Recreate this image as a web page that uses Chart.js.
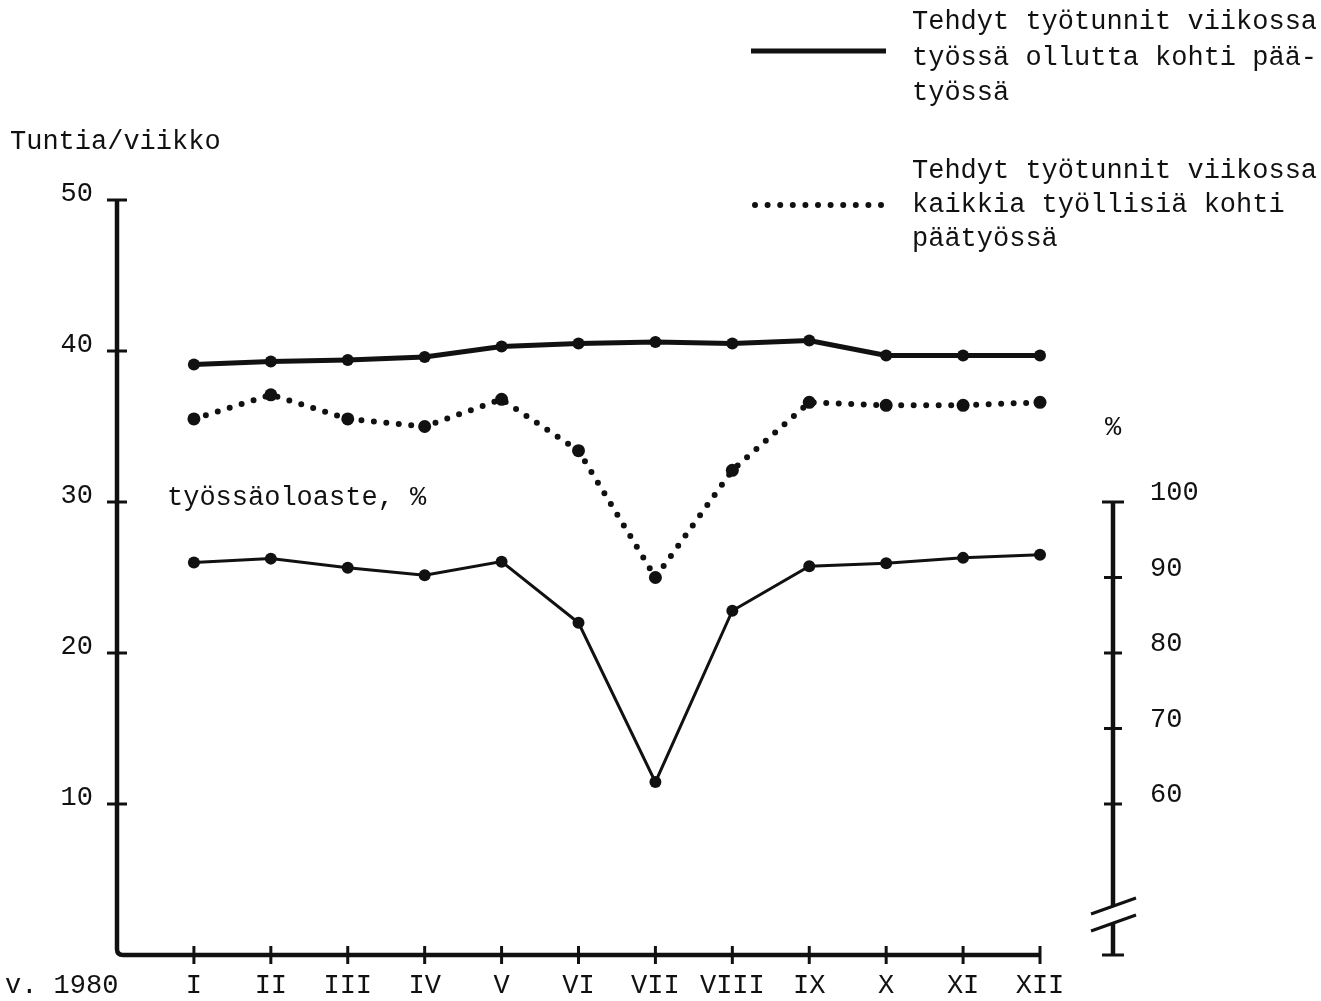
<!DOCTYPE html>
<html>
<head>
<meta charset="utf-8">
<script src="https://cdn.jsdelivr.net/npm/chart.js@4.4.1/dist/chart.umd.min.js"></script>
<style>
  html, body { margin: 0; padding: 0; background: #fff; }
  #wrap { width: 1321px; height: 1001px; position: relative; }
  canvas { display: block; }
</style>
</head>
<body>
<div id="wrap"><canvas id="c" width="1321" height="1001"></canvas></div>
<script>
// ---- data ----
const months = ['I','II','III','IV','V','VI','VII','VIII','IX','X','XI','XII'];
const hoursPerAtWork = [39.1, 39.3, 39.4, 39.6, 40.3, 40.5, 40.6, 40.5, 40.7, 39.7, 39.7, 39.7];
const hoursPerEmployed = [35.5, 37.1, 35.5, 35.0, 36.8, 33.4, 25.0, 32.1, 36.6, 36.4, 36.4, 36.6];
const presenceRate = [92.0, 92.5, 91.3, 90.3, 92.1, 84.0, 62.9, 85.6, 91.5, 91.9, 92.6, 93.0];
const leftTicks = [10, 20, 30, 40, 50];
const rightTicks = [60, 70, 80, 90, 100];
const legendSolid = ['Tehdyt työtunnit viikossa', 'työssä ollutta kohti pää-', 'työssä'];
const legendDotted = ['Tehdyt työtunnit viikossa', 'kaikkia työllisiä kohti', 'päätyössä'];
const leftTitle = 'Tuntia/viikko';
const rightTitle = '%';
const rateLabel = 'työssäoloaste, %';
const yearLabel = 'v. 1980';

const FONT = '27px "Liberation Mono", "DejaVu Sans Mono", monospace';
const INK = '#111';

const toPts = arr => arr.map((v, i) => ({x: i + 1, y: v}));

const axesPlugin = {
  id: 'manualAxes',
  afterDraw(chart) {
    const ctx = chart.ctx;
    const xs = chart.scales.x, ys = chart.scales.y, yr = chart.scales.y2;
    const x0 = xs.getPixelForValue(0);
    const xEnd = xs.getPixelForValue(12);
    const yBot = ys.getPixelForValue(0);
    const yTop = ys.getPixelForValue(50);
    ctx.save();
    ctx.strokeStyle = INK; ctx.fillStyle = INK;
    ctx.lineCap = 'butt';
    // main L-shaped axis
    ctx.lineWidth = 4.5;
    ctx.beginPath();
    ctx.moveTo(x0, yTop);
    ctx.lineTo(x0, yBot - 6);
    ctx.quadraticCurveTo(x0, yBot, x0 + 6, yBot);
    ctx.lineTo(xEnd, yBot);
    ctx.stroke();
    // left ticks (crossing)
    ctx.lineWidth = 3;
    leftTicks.forEach(v => {
      const y = ys.getPixelForValue(v);
      ctx.beginPath(); ctx.moveTo(x0 - 10, y); ctx.lineTo(x0 + 10, y); ctx.stroke();
    });
    // x ticks (crossing)
    for (let i = 1; i <= 12; i++) {
      const x = xs.getPixelForValue(i);
      ctx.beginPath(); ctx.moveTo(x, yBot - 9); ctx.lineTo(x, yBot + 9); ctx.stroke();
    }
    // labels
    ctx.font = FONT;
    ctx.textBaseline = 'middle';
    ctx.textAlign = 'right';
    leftTicks.forEach(v => {
      ctx.fillText(String(v), x0 - 24, ys.getPixelForValue(v) - 6);
    });
    ctx.textAlign = 'center';
    months.forEach((m, i) => ctx.fillText(m, xs.getPixelForValue(i + 1), 986));
    ctx.textAlign = 'left';
    ctx.fillText(yearLabel, 5, 986);
    ctx.fillText(leftTitle, 10, 142);
    ctx.fillText(rateLabel, 167, 498);

    // right (percent) axis with break
    const xr = 1113;
    const rTop = yr.getPixelForValue(100);
    const rBot = ys.getPixelForValue(0);
    ctx.lineWidth = 4.5;
    ctx.beginPath(); ctx.moveTo(xr, rTop); ctx.lineTo(xr, 906); ctx.stroke();
    ctx.beginPath(); ctx.moveTo(xr, 923); ctx.lineTo(xr, rBot); ctx.stroke();
    ctx.lineWidth = 3;
    ctx.beginPath(); ctx.moveTo(xr - 11, rTop); ctx.lineTo(xr + 11, rTop); ctx.stroke();
    ctx.beginPath(); ctx.moveTo(xr - 11, rBot); ctx.lineTo(xr + 11, rBot); ctx.stroke();
    rightTicks.forEach(v => {
      if (v === 100) return;
      const y = yr.getPixelForValue(v);
      ctx.beginPath(); ctx.moveTo(xr - 9, y); ctx.lineTo(xr + 9, y); ctx.stroke();
    });
    // break slashes
    ctx.lineWidth = 3;
    ctx.beginPath(); ctx.moveTo(1091, 914); ctx.lineTo(1136, 898); ctx.stroke();
    ctx.beginPath(); ctx.moveTo(1091, 931); ctx.lineTo(1136, 915); ctx.stroke();
    ctx.textAlign = 'left';
    rightTicks.forEach(v => {
      ctx.fillText(String(v), 1150, yr.getPixelForValue(v) - 9);
    });
    ctx.textAlign = 'center';
    ctx.fillText(rightTitle, xr, 428);

    // legend
    ctx.textAlign = 'left';
    const rows1 = [22, 58, 93], rows2 = [171, 205, 239];
    legendSolid.forEach((t, i) => ctx.fillText(t, 912, rows1[i]));
    legendDotted.forEach((t, i) => ctx.fillText(t, 912, rows2[i]));
    ctx.lineWidth = 5;
    ctx.beginPath(); ctx.moveTo(751, 51); ctx.lineTo(886, 51); ctx.stroke();
    ctx.lineWidth = 6; ctx.lineCap = 'round';
    ctx.setLineDash([0, 12.6]);
    ctx.beginPath(); ctx.moveTo(755, 205); ctx.lineTo(882, 205); ctx.stroke();
    ctx.setLineDash([]);
    ctx.restore();
  }
};

new Chart(document.getElementById('c'), {
  type: 'line',
  data: {
    datasets: [
      {
        label: legendSolid.join(' '),
        data: toPts(hoursPerAtWork),
        yAxisID: 'y',
        borderColor: INK, backgroundColor: INK,
        borderWidth: 5, pointRadius: 6, pointBorderWidth: 0,
        tension: 0, clip: false
      },
      {
        label: legendDotted.join(' '),
        data: toPts(hoursPerEmployed),
        yAxisID: 'y',
        borderColor: INK, backgroundColor: INK,
        borderWidth: 6, borderCapStyle: 'round', borderDash: [0, 12.5],
        pointRadius: 6.5, pointBorderWidth: 0,
        tension: 0, clip: false
      },
      {
        label: rateLabel,
        data: toPts(presenceRate),
        yAxisID: 'y2',
        borderColor: INK, backgroundColor: INK,
        borderWidth: 3, pointRadius: 6, pointBorderWidth: 0,
        tension: 0, clip: false
      }
    ]
  },
  options: {
    responsive: false,
    animation: false,
    devicePixelRatio: 1,
    layout: { padding: { left: 117, right: 281, top: 200, bottom: 46 } },
    plugins: { legend: { display: false }, tooltip: { enabled: false } },
    scales: {
      x: { type: 'linear', min: 0, max: 12, display: false },
      y: { type: 'linear', min: 0, max: 50, display: false },
      y2: { type: 'linear', min: 40, max: 140, display: false }
    }
  },
  plugins: [axesPlugin]
});
</script>
</body>
</html>
